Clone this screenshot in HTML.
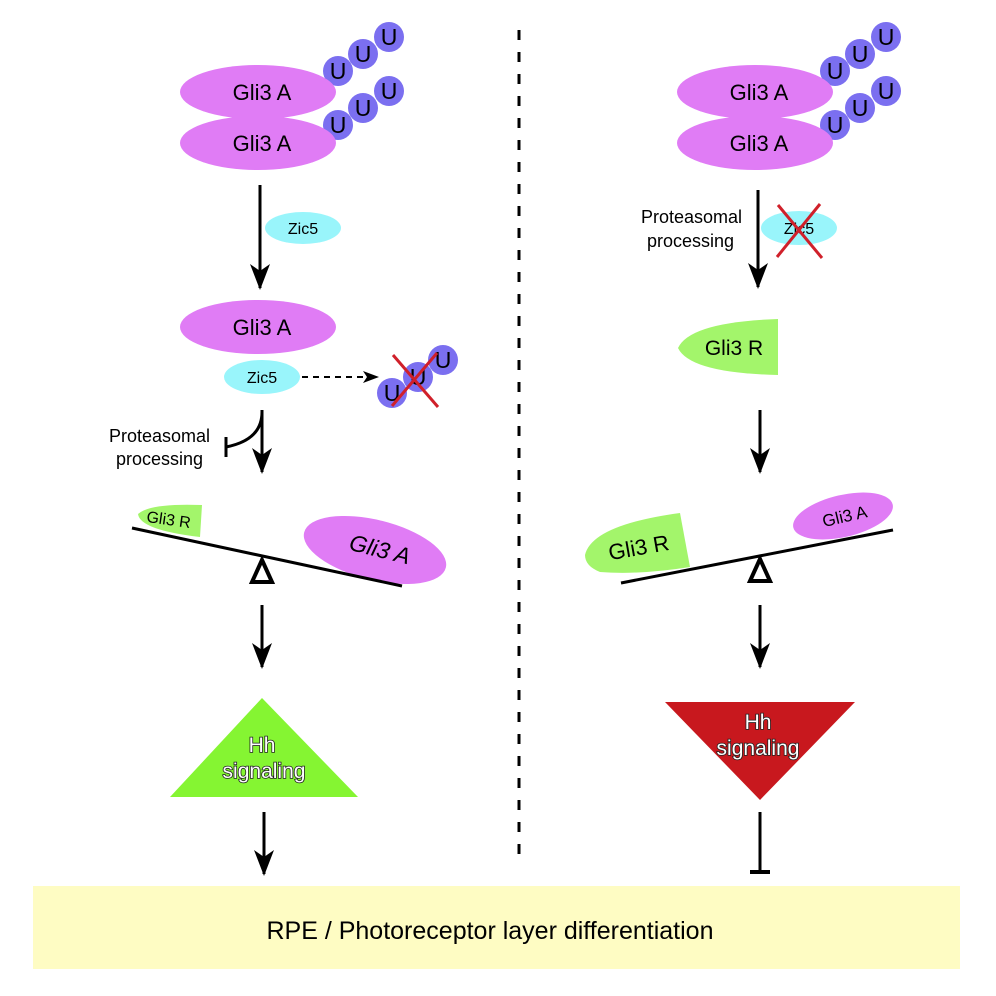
<!DOCTYPE html>
<html><head><meta charset="utf-8"><style>
html,body{margin:0;padding:0;background:#fff}
svg{display:block}
text{font-family:"Liberation Sans",Arial,sans-serif}
.hh{fill:#fff;stroke:#222;stroke-width:1.6px;paint-order:stroke;font-size:21px}
</style></head><body>
<svg width="996" height="996" viewBox="0 0 996 996" xmlns="http://www.w3.org/2000/svg">
<defs>
<marker id="ah" viewBox="0 0 26 20" refX="24" refY="10" markerWidth="26" markerHeight="20" markerUnits="userSpaceOnUse" orient="auto">
<path d="M0,0 L26,10 L0,20 L7,10 z" fill="#000"/></marker>
<marker id="ahs" viewBox="0 0 16 12" refX="15" refY="6" markerWidth="16" markerHeight="12" markerUnits="userSpaceOnUse" orient="auto">
<path d="M0,0 L16,6 L0,12 L4,6 z" fill="#000"/></marker>
<g id="uuu">
<circle cx="0" cy="0" r="15" fill="#7b6ff0"/><circle cx="25" cy="-17" r="15" fill="#7b6ff0"/><circle cx="51" cy="-34" r="15" fill="#7b6ff0"/>
<text x="0" y="8" font-size="23" text-anchor="middle">U</text><text x="25" y="-9" font-size="23" text-anchor="middle">U</text><text x="51" y="-26" font-size="23" text-anchor="middle">U</text>
</g>
</defs>

<line x1="519" y1="30" x2="519" y2="860" stroke="#000" stroke-width="3" stroke-dasharray="10,12"/>

<!-- LEFT -->
<use href="#uuu" x="338" y="71"/>
<use href="#uuu" x="338" y="125"/>
<ellipse cx="258" cy="92" rx="78" ry="27" fill="#e07cf5"/>
<ellipse cx="258" cy="143" rx="78" ry="27" fill="#e07cf5"/>
<text x="262" y="100" font-size="22" text-anchor="middle">Gli3 A</text>
<text x="262" y="151" font-size="22" text-anchor="middle">Gli3 A</text>

<line x1="260" y1="185" x2="260" y2="288" stroke="#000" stroke-width="3" marker-end="url(#ah)"/>
<ellipse cx="303" cy="228" rx="38" ry="16" fill="#99f5fb"/>
<text x="303" y="234" font-size="16" text-anchor="middle">Zic5</text>

<ellipse cx="258" cy="327" rx="78" ry="27" fill="#e07cf5"/>
<text x="262" y="335" font-size="22" text-anchor="middle">Gli3 A</text>
<ellipse cx="262" cy="377" rx="38" ry="17" fill="#99f5fb"/>
<text x="262" y="383" font-size="16" text-anchor="middle">Zic5</text>
<line x1="302" y1="377" x2="378" y2="377" stroke="#000" stroke-width="2" stroke-dasharray="6,5" marker-end="url(#ahs)"/>
<circle cx="392" cy="393" r="15" fill="#7b6ff0"/><circle cx="418" cy="377" r="15" fill="#7b6ff0"/><circle cx="443" cy="360" r="15" fill="#7b6ff0"/>
<text x="392" y="401" font-size="23" text-anchor="middle">U</text><text x="418" y="385" font-size="23" text-anchor="middle">U</text><text x="443" y="368" font-size="23" text-anchor="middle">U</text>
<line x1="393" y1="355" x2="438" y2="407" stroke="#d0202a" stroke-width="3"/>
<line x1="392" y1="406" x2="437" y2="353" stroke="#d0202a" stroke-width="3"/>

<line x1="262" y1="410" x2="262" y2="472" stroke="#000" stroke-width="3" marker-end="url(#ah)"/>
<path d="M262,412 Q262,440 226,447" fill="none" stroke="#000" stroke-width="3"/>
<line x1="226" y1="437" x2="226" y2="457" stroke="#000" stroke-width="3"/>
<text x="210" y="442" font-size="18" text-anchor="end">Proteasomal</text>
<text x="203" y="465" font-size="18" text-anchor="end">processing</text>

<path d="M138,514 Q150,503 202,505 L200,537 Q140,530 138,514 z" fill="#a3f56b"/>
<text x="168" y="525" font-size="16" text-anchor="middle" transform="rotate(8 168 525)">Gli3 R</text>
<ellipse cx="375" cy="550" rx="73" ry="30" fill="#e07cf5" transform="rotate(14 375 550)"/>
<text x="378" y="557" font-size="23" text-anchor="middle" font-style="italic" transform="rotate(14 378 557)">Gli3 A</text>
<line x1="132" y1="528" x2="402" y2="586" stroke="#000" stroke-width="3"/>
<path d="M262,560 L252,582 L272,582 z" fill="#fff" stroke="#000" stroke-width="4"/>

<line x1="262" y1="605" x2="262" y2="667" stroke="#000" stroke-width="3" marker-end="url(#ah)"/>
<path d="M262,698 L170,797 L358,797 z" fill="#85f532"/>
<text x="262" y="752" class="hh" text-anchor="middle">Hh</text>
<text x="264" y="778" class="hh" text-anchor="middle">signaling</text>
<line x1="264" y1="812" x2="264" y2="874" stroke="#000" stroke-width="3" marker-end="url(#ah)"/>

<!-- RIGHT -->
<use href="#uuu" x="835" y="71"/>
<use href="#uuu" x="835" y="125"/>
<ellipse cx="755" cy="92" rx="78" ry="27" fill="#e07cf5"/>
<ellipse cx="755" cy="143" rx="78" ry="27" fill="#e07cf5"/>
<text x="759" y="100" font-size="22" text-anchor="middle">Gli3 A</text>
<text x="759" y="151" font-size="22" text-anchor="middle">Gli3 A</text>

<line x1="758" y1="190" x2="758" y2="287" stroke="#000" stroke-width="3" marker-end="url(#ah)"/>
<text x="742" y="223" font-size="18" text-anchor="end">Proteasomal</text>
<text x="734" y="247" font-size="18" text-anchor="end">processing</text>
<ellipse cx="799" cy="228" rx="38" ry="17" fill="#99f5fb"/>
<text x="799" y="234" font-size="16" text-anchor="middle">Zic5</text>
<line x1="778" y1="205" x2="822" y2="258" stroke="#d0202a" stroke-width="3"/>
<line x1="777" y1="257" x2="820" y2="204" stroke="#d0202a" stroke-width="3"/>

<path d="M778,319 L778,375 Q690,373 678,348 Q690,322 778,319 z" fill="#a3f56b"/>
<text x="734" y="355" font-size="21" text-anchor="middle">Gli3 R</text>

<line x1="760" y1="410" x2="760" y2="472" stroke="#000" stroke-width="3" marker-end="url(#ah)"/>

<path d="M585,555 Q592,525 680,513 L690,567 Q640,575 600,572 Q585,566 585,555 z" fill="#a3f56b"/>
<text x="640" y="555" font-size="22" text-anchor="middle" transform="rotate(-10 640 555)">Gli3 R</text>
<ellipse cx="843" cy="516" rx="51" ry="21" fill="#e07cf5" transform="rotate(-13 843 516)"/>
<text x="846" y="522" font-size="17" text-anchor="middle" transform="rotate(-13 846 522)">Gli3 A</text>
<line x1="621" y1="583" x2="893" y2="530" stroke="#000" stroke-width="3"/>
<path d="M760,559 L750,581 L770,581 z" fill="#fff" stroke="#000" stroke-width="4"/>

<line x1="760" y1="605" x2="760" y2="667" stroke="#000" stroke-width="3" marker-end="url(#ah)"/>
<path d="M665,702 L855,702 L760,800 z" fill="#c8181e"/>
<text x="758" y="729" class="hh" text-anchor="middle">Hh</text>
<text x="758" y="755" class="hh" text-anchor="middle">signaling</text>
<line x1="760" y1="812" x2="760" y2="872" stroke="#000" stroke-width="3"/>
<line x1="750" y1="872" x2="770" y2="872" stroke="#000" stroke-width="4"/>

<rect x="33" y="886" width="927" height="83" fill="#fefcc3"/>
<text x="490" y="939" font-size="25" text-anchor="middle">RPE / Photoreceptor layer differentiation</text>
</svg>
</body></html>
